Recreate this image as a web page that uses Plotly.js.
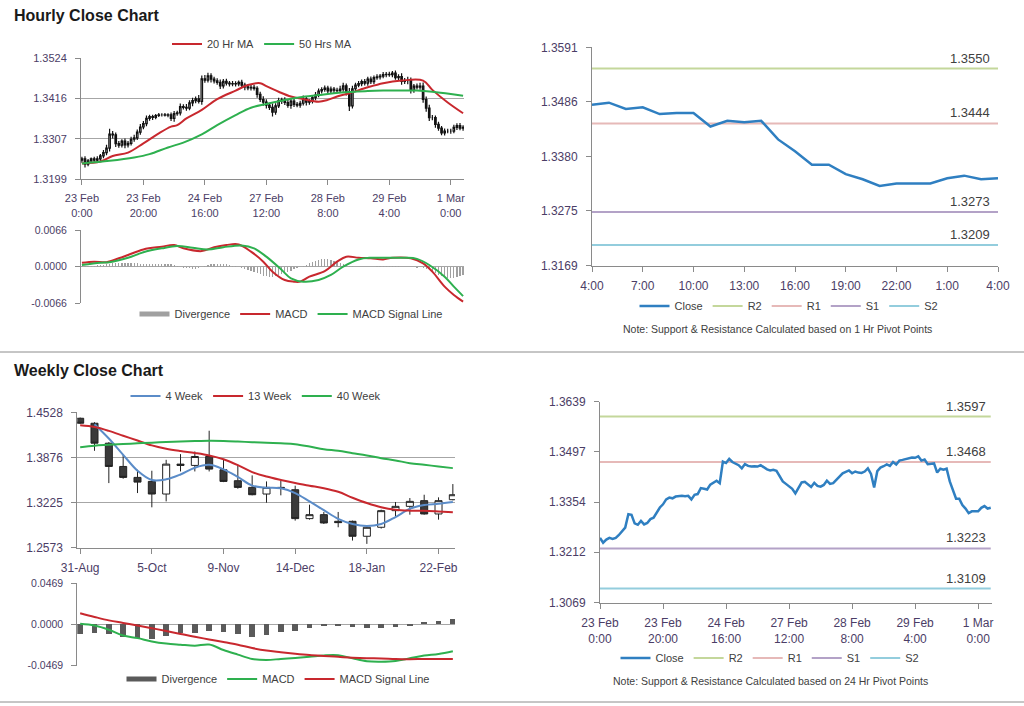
<!DOCTYPE html>
<html><head><meta charset="utf-8">
<script src="https://cdn.plot.ly/plotly-3.0.1.min.js"></script>
<style>html,body{margin:0;padding:0;background:#fff}#chart{width:1024px;height:706px}</style>
</head><body><div id="chart"></div>
<script>
// ---------------- HOURLY DATA (23 Feb 0:00 -> 1 Mar 4:00) ----------------
const hourFirstOpen = 1.3250;
const hourClose = [
1.3253,1.3239,1.3248,1.3253,1.3250,1.3253,1.3261,1.3270,1.3282,1.3320,
1.3318,1.3294,1.3290,1.3301,1.3291,1.3295,1.3306,1.3310,1.3325,1.3339,
1.3348,1.3362,1.3367,1.3365,1.3370,1.3372,1.3372,1.3371,1.3372,1.3362,
1.3375,1.3377,1.3394,1.3392,1.3390,1.3404,1.3410,1.3415,1.3408,1.3469,
1.3465,1.3477,1.3468,1.3463,1.3459,1.3450,1.3462,1.3457,1.3455,1.3456,
1.3455,1.3459,1.3452,1.3447,1.3444,1.3446,1.3443,1.3427,1.3413,1.3406,
1.3398,1.3392,1.3379,1.3396,1.3410,1.3412,1.3405,1.3397,1.3409,1.3400,
1.3398,1.3403,1.3415,1.3406,1.3408,1.3418,1.3425,1.3436,1.3440,1.3444,
1.3436,1.3441,1.3438,1.3437,1.3441,1.3450,1.3434,1.3396,1.3442,1.3452,
1.3456,1.3461,1.3457,1.3468,1.3461,1.3472,1.3474,1.3476,1.3480,1.3481,
1.3480,1.3484,1.3472,1.3475,1.3462,1.3464,1.3464,1.3438,1.3449,1.3446,
1.3449,1.3413,1.3390,1.3364,1.3364,1.3346,1.3336,1.3323,1.3328,1.3328,
1.3328,1.3338,1.3343,1.3336,1.3338];
// wick sizes above / below candle body, in pips
const hourWickUpPips = [
6,7,5,4,6,7,5,7,9,14, 8,6,7,5,7,6,7,8,7,8, 7,8,5,5,4,5,4,5,4,6, 7,6,8,6,9,7,8,6,10,9,
10,8,7,6,7,8,6,7,6,7, 6,5,7,6,7,8,7,6,7,9, 8,6,10,7,8,6,7,9,6,7, 6,7,9,7,6,7,8,7,6,7,
6,7,6,7,9,8,6,10,8,6, 7,6,7,6,7,6,7,6,7,6, 7,6,7,6,9,7,10,8,6,7, 9,10,8,9,7,6,7,6,7,6,
6,7,6,7,6];
const hourWickDnPips = [
7,9,6,5,7,6,7,6,7,9, 10,9,7,6,9,7,6,7,6,7, 6,7,6,7,5,4,5,4,6,7, 9,6,7,6,7,6,9,7,6,9,
7,6,9,7,6,9,7,6,7,6, 7,6,7,9,6,7,6,9,7,10, 9,7,12,7,6,9,7,6,9,7, 6,7,6,9,7,6,7,6,7,6,
7,6,9,7,6,7,10,14,7,6, 6,7,6,7,6,7,6,7,6,7, 6,7,6,7,9,7,10,9,7,6, 7,9,10,9,7,9,7,6,7,6,
7,6,7,6,7];
const hourTickVals = [0,20,40,60,80,100,120];
const hourTickLabels = ['23 Feb<br>0:00','23 Feb<br>20:00','24 Feb<br>16:00','27 Feb<br>12:00','28 Feb<br>8:00','29 Feb<br>4:00','1 Mar<br>0:00'];

const ma20Hours = [0,6,10,15,20,25,29,31,34,39,44,50,54,58,60,64,68,72,77,80,83,87,93,98,104,111,114,119,124];
const ma20Vals  = [1.3241,1.3246,1.3261,1.3270,1.3295,1.3322,1.3340,1.3344,1.3362,1.3385,1.3414,1.3437,1.3452,1.3457,1.3449,1.3434,1.3421,1.3414,1.3407,1.3412,1.3421,1.3430,1.3446,1.3457,1.3464,1.3464,1.3439,1.3405,1.3376];
const ma50Hours = [0,9,17,22,28,33,39,44,50,55,60,66,71,77,82,87,93,98,104,109,114,120,124];
const ma50Vals  = [1.3241,1.3248,1.3257,1.3266,1.3284,1.3297,1.3319,1.3344,1.3371,1.3391,1.3401,1.3412,1.3419,1.3425,1.3430,1.3433,1.3436,1.3437,1.3437,1.3437,1.3434,1.3428,1.3423];

// hourly MACD panel
const hourDiv = [ // units of 0.0001
1,1,2,2,2,3,3,3,4,5, 6,6,7,7,7,6,6,6,6,5, 5,5,5,5,4,4,4,4,4,4, 3,1,-1,-2,-3,-3,-4,-4,-3,-1,
1,3,4,4,5,5,4,4,3,2, 1,0,-2,-4,-6,-8,-10,-12,-14,-16, -17,-18,-18,-17,-15,-13,-11,-9,-7,-5,
-2,-1,1,3,6,9,11,12,13,13, 13,12,11,9,7,5,3,2,1,0, 0,0,0,0,-1,0,1,1,2,2, 2,2,1,1,0,0,-1,-1,-1,-2,
-1,-2,-4,-6,-9,-12,-15,-17,-19,-20, -21,-20,-19,-17,-15];
const macdHours = [0,4,8,12,15,20,26,30,33,39,43,47,51,55,59,62,66,69,71,74,79,83,86,90,94,98,101,107,111,114,118,121,124];
const macdVals  = [0.0007,0.0009,0.0008,0.0015,0.0021,0.0031,0.0036,0.0039,0.0033,0.0028,0.0035,0.0039,0.0040,0.0027,0.0009,-0.0009,-0.0024,-0.0027,-0.0027,-0.0018,-0.0008,0.0009,0.0018,0.0016,0.0015,0.0013,0.0016,0.0015,0.0006,-0.0009,-0.0036,-0.0051,-0.0063];
const signalHours = [0,6,9,15,20,26,31,36,41,46,52,56,60,65,68,72,77,81,85,90,94,99,105,109,113,118,121,124];
const signalVals  = [0.0003,0.0007,0.0008,0.0016,0.0026,0.0033,0.0037,0.0034,0.0031,0.0035,0.0038,0.0033,0.0018,-0.0006,-0.0021,-0.0027,-0.0024,-0.0015,0.0000,0.0013,0.0016,0.0016,0.0016,0.0014,0.0003,-0.0018,-0.0036,-0.0053];

// last 24 hours (1 Hr pivots)
const dayStart = 100;
const dayTickVals = [0,3,6,9,12,15,18,21,24];
const dayTickLabels = ['4:00','7:00','10:00','13:00','16:00','19:00','22:00','1:00','4:00'];
const levelNames = ['R2','R1','S1','S2'];
const levelColors = ['#c4d79b','#e6b9b8','#b3a2c7','#93cddd'];
const hourLevels = [1.3550,1.3444,1.3273,1.3209];
const dayLevels = [1.3597,1.3468,1.3223,1.3109];

// ---------------- WEEKLY DATA (31-Aug -> 29-Feb) ----------------
const weekOpen  = [1.4442,1.4370,1.4082,1.3746,1.3588,1.3530,1.3348,1.3780,1.3761,1.3890,1.3698,1.3540,1.3444,1.3348,1.3444,1.3410,1.2993,1.3050,1.2954,1.2954,1.2738,1.2868,1.3108,1.3170,1.3252,1.3060,1.3266];
const weekHigh  = [1.4452,1.4385,1.4097,1.3914,1.3698,1.3684,1.3842,1.3924,1.3962,1.4262,1.3842,1.3770,1.3617,1.3530,1.3540,1.3468,1.3194,1.3089,1.3089,1.2964,1.2897,1.3122,1.3233,1.3290,1.3338,1.3300,1.3492];
const weekLow   = [1.4360,1.3972,1.3506,1.3569,1.3362,1.3156,1.3242,1.3674,1.3674,1.3674,1.3520,1.3425,1.3329,1.3223,1.3329,1.2964,1.2978,1.2916,1.2868,1.2676,1.2628,1.2849,1.3026,1.3050,1.3050,1.2978,1.3257];
const weekClose = [1.4370,1.4082,1.3746,1.3588,1.3520,1.3348,1.3780,1.3761,1.3890,1.3708,1.3530,1.3444,1.3338,1.3444,1.3434,1.2993,1.3050,1.2930,1.2935,1.2738,1.2868,1.3108,1.3170,1.3242,1.3060,1.3252,1.3338];
const weekTickVals = [0,5,10,15,20,25];
const weekTickLabels = ['31-Aug','5-Oct','9-Nov','14-Dec','18-Jan','22-Feb'];
const ma4Weeks = [1,2,3,4,5,6,7,8,9,10,11,12,13,14,15,16,17,18,19,20,21,22,23,24,25,26];
const ma4Vals  = [1.4356,1.4150,1.3914,1.3685,1.3550,1.3560,1.3630,1.3728,1.3770,1.3705,1.3595,1.3470,1.3440,1.3430,1.3362,1.3242,1.3115,1.2990,1.2915,1.2885,1.2915,1.3015,1.3135,1.3190,1.3208,1.3233];
const ma13Vals = [1.4340,1.4315,1.4260,1.4190,1.4120,1.4050,1.4002,1.3968,1.3940,1.3905,1.3850,1.3765,1.3665,1.3600,1.3550,1.3506,1.3468,1.3432,1.3380,1.3295,1.3218,1.3156,1.3120,1.3108,1.3106,1.3096,1.3084];
const ma40Vals = [1.4025,1.4046,1.4058,1.4070,1.4080,1.4090,1.4098,1.4106,1.4112,1.4116,1.4114,1.4106,1.4096,1.4088,1.4080,1.4068,1.4034,1.3994,1.3972,1.3938,1.3905,1.3866,1.3833,1.3794,1.3770,1.3746,1.3722];
const weekDiv    = [-0.0113,-0.0094,-0.0113,-0.0140,-0.0151,-0.0166,-0.0132,-0.0102,-0.0094,-0.0072,-0.0083,-0.0113,-0.0140,-0.0125,-0.0087,-0.0072,-0.0045,-0.0020,-0.0020,-0.0034,-0.0038,-0.0038,-0.0030,-0.0015,0.0023,0.0045,0.0068];
const weekMacd   = [0.0008,-0.0012,-0.0060,-0.0126,-0.0155,-0.0193,-0.0217,-0.0230,-0.0241,-0.0228,-0.0291,-0.0343,-0.0393,-0.0404,-0.0392,-0.0381,-0.0368,-0.0352,-0.0350,-0.0385,-0.0418,-0.0423,-0.0415,-0.0385,-0.0354,-0.0336,-0.0305];
const weekSignal = [0.0128,0.0086,0.0047,0.0018,-0.0011,-0.0042,-0.0074,-0.0107,-0.0140,-0.0170,-0.0199,-0.0230,-0.0268,-0.0297,-0.0315,-0.0332,-0.0347,-0.0358,-0.0368,-0.0378,-0.0384,-0.0386,-0.0393,-0.0395,-0.0393,-0.0393,-0.0393];

// ---------------- BUILD ----------------
const W = 1024, H = 706;
const px = v => v / W, py = v => 1 - v / H;
const FONT = 'Liberation Sans, Arial, sans-serif';
const TICKC = '#4b3d66', AXC = '#8a8a8a', GRIDC = '#a6a6a6';
const RED = '#c8282e', GREEN = '#2eb04f', BLUE = '#2f7fc1', LBLUE = '#5b8cc8';
const HDIV = '#a0a0a0', WDIV = '#5a5a5a';

const hourIdx = hourClose.map((_, i) => i);
const hourOpen = hourClose.map((c, i) => i === 0 ? hourFirstOpen : hourClose[i - 1]);
const hourHigh = hourClose.map((c, i) => Math.max(c, hourOpen[i]) + hourWickUpPips[i] * 1e-4);
const hourLow  = hourClose.map((c, i) => Math.min(c, hourOpen[i]) - hourWickDnPips[i] * 1e-4);
const dayClose = hourClose.slice(dayStart);
const dayIdx = dayClose.map((_, i) => i);
const weekIdx = weekClose.map((_, i) => i);

const traces = [];
// P1 hourly candles
traces.push({type:'candlestick', x:hourIdx, open:hourOpen, high:hourHigh, low:hourLow, close:hourClose,
  xaxis:'x', yaxis:'y', showlegend:false, whiskerwidth:0,
  increasing:{line:{color:'#111', width:1.2}, fillcolor:'#ffffff'},
  decreasing:{line:{color:'#111', width:1.2}, fillcolor:'#111111'}});
traces.push({type:'scatter', mode:'lines', x:ma20Hours, y:ma20Vals, name:'20 Hr MA', xaxis:'x', yaxis:'y', legend:'legend',
  line:{color:RED, width:2, shape:'spline'}});
traces.push({type:'scatter', mode:'lines', x:ma50Hours, y:ma50Vals, name:'50 Hrs MA', xaxis:'x', yaxis:'y', legend:'legend',
  line:{color:GREEN, width:2, shape:'spline'}});
// P2 hourly MACD
traces.push({type:'bar', x:hourIdx, y:hourDiv.map(v => v * 1e-4), name:'Divergence', xaxis:'x2', yaxis:'y2', showlegend:false,
  width:0.4, marker:{color:HDIV, line:{width:0}}});
traces.push({type:'scatter', mode:'lines', x:[null], y:[null], name:'Divergence', xaxis:'x2', yaxis:'y2', legend:'legend2',
  line:{color:HDIV, width:5}});
traces.push({type:'scatter', mode:'lines', x:macdHours, y:macdVals, name:'MACD', xaxis:'x2', yaxis:'y2', legend:'legend2',
  line:{color:RED, width:2, shape:'spline'}});
traces.push({type:'scatter', mode:'lines', x:signalHours, y:signalVals, name:'MACD Signal Line', xaxis:'x2', yaxis:'y2', legend:'legend2',
  line:{color:GREEN, width:2, shape:'spline'}});
// P3 last-24h close with 1 Hr pivots
levelNames.forEach((n, k) => traces.push({type:'scatter', mode:'lines', x:[dayIdx[0], dayIdx[dayIdx.length-1]], y:[hourLevels[k], hourLevels[k]],
  name:n, xaxis:'x3', yaxis:'y3', legend:'legend3', legendrank:k+2, line:{color:levelColors[k], width:2}}));
traces.push({type:'scatter', mode:'lines', x:dayIdx, y:dayClose, name:'Close', xaxis:'x3', yaxis:'y3', legend:'legend3', legendrank:1,
  line:{color:BLUE, width:2.5}});
// P4 weekly candles
traces.push({type:'candlestick', x:weekIdx, open:weekOpen, high:weekHigh, low:weekLow, close:weekClose,
  xaxis:'x4', yaxis:'y4', showlegend:false, whiskerwidth:0,
  increasing:{line:{color:'#222', width:1}, fillcolor:'#ffffff'},
  decreasing:{line:{color:'#222', width:1}, fillcolor:'#3a3a3a'}});
traces.push({type:'scatter', mode:'lines', x:ma4Weeks, y:ma4Vals, name:'4 Week', xaxis:'x4', yaxis:'y4', legend:'legend4',
  line:{color:LBLUE, width:2, shape:'spline'}});
traces.push({type:'scatter', mode:'lines', x:weekIdx, y:ma13Vals, name:'13 Week', xaxis:'x4', yaxis:'y4', legend:'legend4',
  line:{color:RED, width:2, shape:'spline'}});
traces.push({type:'scatter', mode:'lines', x:weekIdx, y:ma40Vals, name:'40 Week', xaxis:'x4', yaxis:'y4', legend:'legend4',
  line:{color:GREEN, width:2, shape:'spline'}});
// P5 weekly MACD
traces.push({type:'bar', x:weekIdx, y:weekDiv, name:'Divergence', xaxis:'x5', yaxis:'y5', showlegend:false,
  width:0.4, marker:{color:WDIV, line:{width:0}}});
traces.push({type:'scatter', mode:'lines', x:[null], y:[null], name:'Divergence', xaxis:'x5', yaxis:'y5', legend:'legend5',
  line:{color:WDIV, width:5}});
traces.push({type:'scatter', mode:'lines', x:weekIdx, y:weekMacd, name:'MACD', xaxis:'x5', yaxis:'y5', legend:'legend5',
  line:{color:GREEN, width:2, shape:'spline'}});
traces.push({type:'scatter', mode:'lines', x:weekIdx, y:weekSignal, name:'MACD Signal Line', xaxis:'x5', yaxis:'y5', legend:'legend5',
  line:{color:RED, width:2, shape:'spline'}});
// P6 hourly close with 24 Hr pivots
levelNames.forEach((n, k) => traces.push({type:'scatter', mode:'lines', x:[hourIdx[0], hourIdx[hourIdx.length-1]], y:[dayLevels[k], dayLevels[k]],
  name:n, xaxis:'x6', yaxis:'y6', legend:'legend6', legendrank:k+2, line:{color:levelColors[k], width:2}}));
traces.push({type:'scatter', mode:'lines', x:hourIdx, y:hourClose, name:'Close', xaxis:'x6', yaxis:'y6', legend:'legend6', legendrank:1,
  line:{color:BLUE, width:2.5}});

function fmt(a, d) { return a.map(v => v.toFixed(d)); }
function xAx(l, r, range, anchor, tv, tt, fs, extra) {
  return Object.assign({domain:[px(l), px(r)], range:range, anchor:anchor, tickmode:'array', tickvals:tv, ticktext:tt,
    ticks: tv.length ? 'outside' : '', ticklen:5, tickcolor:AXC, showline:true, linecolor:AXC, linewidth:1,
    showgrid:false, zeroline:false, fixedrange:true, ticklabelstandoff:4,
    tickfont:{size:fs, color:TICKC, family:FONT}, rangeslider:{visible:false}}, extra || {});
}
function yAx(t, b, range, anchor, tv, d, fs, grid) {
  return {domain:[py(b), py(t)], range:range, anchor:anchor, tickmode:'array', tickvals:tv, ticktext:fmt(tv, d),
    ticks:'outside', ticklen:5, tickcolor:AXC, showline:true, linecolor:AXC, linewidth:1,
    showgrid:grid, gridcolor:GRIDC, gridwidth:1, zeroline:false, fixedrange:true, ticklabelstandoff:6,
    tickfont:{size:fs, color:TICKC, family:FONT}};
}
function leg(cx, cy) {
  return {orientation:'h', x:px(cx), y:py(cy), xanchor:'center', yanchor:'middle', bgcolor:'rgba(0,0,0,0)',
    font:{size:11, color:'#404040', family:FONT}, itemwidth:30, traceorder:'normal'};
}

const hY = [1.3199,1.3307,1.3416,1.3524];
const mY = [-0.0066,0,0.0066];
const dY = [1.3169,1.3275,1.3380,1.3486,1.3591];
const wY = [1.2573,1.3225,1.3876,1.4528];
const wmY = [-0.0469,0,0.0469];
const bY = [1.3069,1.3212,1.3354,1.3497,1.3639];

const annotations = [
  {xref:'paper', yref:'paper', x:px(12), y:py(16), xanchor:'left', yanchor:'middle', showarrow:false,
    text:'<b>Hourly Close Chart</b>', font:{size:16, color:'#1a1a1a', family:FONT}},
  {xref:'paper', yref:'paper', x:px(12), y:py(370), xanchor:'left', yanchor:'middle', showarrow:false,
    text:'<b>Weekly Close Chart</b>', font:{size:16, color:'#1a1a1a', family:FONT}},
  {xref:'paper', yref:'paper', x:px(777), y:py(329), xanchor:'center', yanchor:'middle', showarrow:false,
    text:'Note: Support & Resistance Calculated based on 1 Hr Pivot Points', font:{size:10.5, color:'#404040', family:FONT}},
  {xref:'paper', yref:'paper', x:px(770), y:py(681), xanchor:'center', yanchor:'middle', showarrow:false,
    text:'Note: Support & Resistance Calculated based on 24 Hr Pivot Points', font:{size:10.5, color:'#404040', family:FONT}}
];
hourLevels.forEach(v => annotations.push({xref:'x3', yref:'y3', x:dayIdx[dayIdx.length-1], y:v, xanchor:'right', yanchor:'bottom',
  xshift:-6, yshift:1, showarrow:false, text:v.toFixed(4), font:{size:13, color:'#404040', family:FONT}}));
dayLevels.forEach(v => annotations.push({xref:'x6', yref:'y6', x:hourIdx[hourIdx.length-1], y:v, xanchor:'right', yanchor:'bottom',
  xshift:-3, yshift:1, showarrow:false, text:v.toFixed(4), font:{size:13, color:'#404040', family:FONT}}));

const layout = {
  width:W, height:H, margin:{l:0, r:0, t:0, b:0}, paper_bgcolor:'#fff', plot_bgcolor:'#fff',
  font:{family:FONT}, bargap:0, showlegend:true,
  xaxis:  xAx(81, 464, [-0.3, 124.3], 'y', hourTickVals, hourTickLabels, 11),
  yaxis:  yAx(58.3, 179, [hY[0], hY[3]], 'x', hY, 4, 11, true),
  xaxis2: xAx(81, 464, [-0.3, 124.3], 'y2', [], [], 11, {showline:false, showticklabels:false}),
  yaxis2: yAx(230, 303.3, [mY[0], mY[2]], 'x2', mY, 4, 10.5, true),
  xaxis3: xAx(592, 998, [0, 24], 'y3', dayTickVals, dayTickLabels, 12),
  yaxis3: yAx(47.3, 265.7, [dY[0], dY[4]], 'x3', dY, 4, 12, false),
  xaxis4: xAx(77.3, 455, [-0.2, 26.15], 'y4', weekTickVals, weekTickLabels, 12),
  yaxis4: yAx(412.3, 547.7, [wY[0], wY[3]], 'x4', wY, 4, 12, true),
  xaxis5: xAx(77.3, 455, [-0.2, 26.15], 'y5', [], [], 11, {showline:false, showticklabels:false}),
  yaxis5: yAx(583.3, 665.7, [wmY[0], wmY[2]], 'x5', wmY, 4, 10.5, true),
  xaxis6: xAx(600, 992, [0, 124.4], 'y6', hourTickVals, hourTickLabels, 12),
  yaxis6: yAx(401.7, 602.7, [bY[0], bY[4]], 'x6', bY, 4, 12, false),
  legend:  leg(262, 44),
  legend2: leg(291, 314),
  legend3: leg(789, 306),
  legend4: leg(256, 396),
  legend5: leg(278, 679),
  legend6: leg(770, 658),
  annotations: annotations,
  shapes: [
    {type:'line', xref:'paper', yref:'paper', x0:0, x1:1, y0:py(352), y1:py(352), line:{color:'#8c8c8c', width:1}},
    {type:'line', xref:'paper', yref:'paper', x0:0, x1:1, y0:py(702), y1:py(702), line:{color:'#8c8c8c', width:1}}
  ]
};
Plotly.newPlot('chart', traces, layout, {staticPlot:true, displayModeBar:false});
</script></body></html>
